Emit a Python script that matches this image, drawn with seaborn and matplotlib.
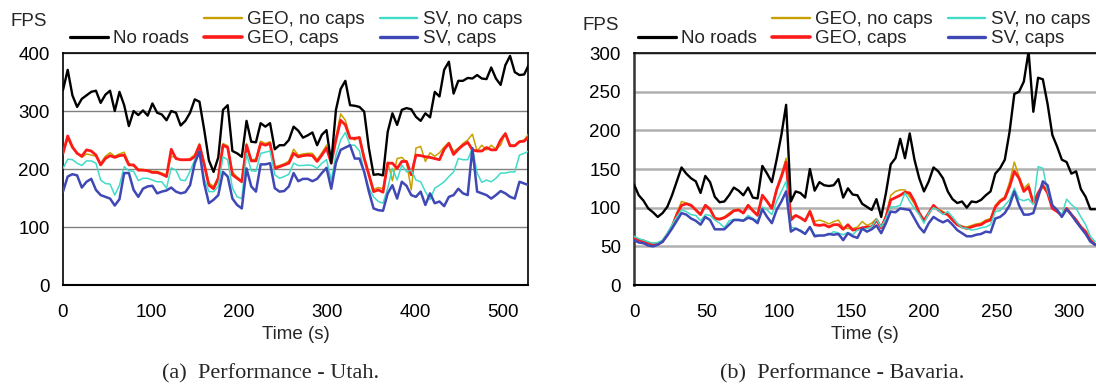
import numpy as np
import pandas as pd
import matplotlib
matplotlib.use("Agg")
import matplotlib.pyplot as plt
from matplotlib.lines import Line2D
import seaborn as sns

# ---------------- data ----------------
utah_time = np.linspace(0, 529, 100)
utah_no_roads = [336, 371, 327, 307, 321, 327, 333, 335, 314, 328, 335, 300, 333, 310, 274, 300, 293, 301, 292, 313,
                 297, 294, 284, 300, 297, 275, 283, 297, 320, 316, 268, 215, 195, 220,
                 302, 310, 231, 227, 221, 283, 247, 246, 279, 273, 279, 234, 241, 241, 250, 273, 266, 254, 258, 263,
                 241, 259, 267, 210, 302, 338, 352, 310, 309, 307, 299, 236, 190,
                 191, 189, 264, 296, 276, 302, 305, 303, 290, 283, 296, 289, 333, 325, 371, 385, 330, 352, 352, 357,
                 356, 362, 356, 355, 375, 356, 345, 379, 395, 367, 362, 363, 380]
utah_geo_nocaps = [228, 252, 236, 228, 220, 226, 224, 222, 210, 222, 228, 222, 226, 229, 210, 205, 200, 199, 198, 196,
                   196, 193, 190, 222, 220, 215, 215, 218, 225, 244, 212, 176, 170, 186,
                   244, 240, 195, 186, 180, 244, 216, 217, 248, 244, 247, 204, 206, 209, 214, 234, 224, 226, 227, 227,
                   216, 228, 241, 212, 255, 295, 284, 255, 250, 256, 222, 194, 165,
                   168, 166, 212, 180, 218, 220, 212, 164, 236, 239, 213, 228, 222, 228, 238, 246, 230, 236, 244, 250,
                   260, 231, 241, 233, 241, 234, 241, 262, 242, 241, 248, 250, 261]
utah_geo_caps = [227, 257, 238, 227, 222, 233, 231, 224, 207, 218, 223, 220, 223, 224, 207, 207, 198, 198, 197, 194,
                 194, 191, 187, 234, 218, 216, 216, 216, 221, 241, 208, 172, 166, 184,
                 241, 237, 190, 184, 178, 241, 214, 214, 244, 241, 244, 201, 204, 207, 210, 227, 221, 223, 224, 223,
                 213, 224, 236, 210, 250, 284, 276, 253, 253, 254, 218, 190, 161,
                 164, 160, 210, 210, 201, 213, 213, 190, 224, 223, 221, 220, 218, 216, 234, 244, 225, 234, 241, 246,
                 233, 231, 231, 237, 233, 233, 250, 261, 240, 240, 247, 248, 256]
utah_sv_nocaps = [201, 217, 216, 210, 206, 214, 214, 210, 181, 175, 174, 155, 172, 204, 197, 196, 180, 184, 184, 181,
                  178, 178, 167, 202, 198, 181, 180, 196, 216, 227, 184, 161, 161, 170,
                  221, 216, 167, 152, 149, 227, 197, 196, 227, 229, 231, 190, 184, 187, 191, 210, 206, 206, 207, 206,
                  201, 210, 216, 181, 224, 250, 263, 241, 241, 231, 195, 167, 152,
                  144, 141, 167, 201, 181, 207, 195, 198, 181, 178, 161, 147, 167, 172, 178, 187, 195, 218, 216, 216,
                  236, 193, 177, 181, 178, 184, 193, 193, 195, 195, 224, 227, 231]
utah_sv_caps = [161, 187, 191, 189, 168, 178, 183, 164, 155, 152, 149, 137, 148, 193, 193, 164, 152, 166, 170, 171,
                158, 161, 163, 168, 161, 158, 160, 172, 210, 230, 175, 141, 147, 155,
                195, 187, 149, 138, 132, 201, 170, 161, 208, 208, 210, 167, 161, 162, 170, 193, 179, 183, 183, 179,
                183, 193, 202, 166, 211, 233, 237, 241, 218, 218, 195, 161, 132,
                129, 128, 158, 172, 149, 178, 171, 155, 152, 161, 138, 158, 141, 144, 136, 152, 155, 166, 158, 155,
                236, 161, 158, 155, 149, 155, 162, 158, 152, 149, 178, 175, 172]

bav_time = np.linspace(0, 318, 98)
bav_no_roads = [130, 116, 109, 99, 94, 88, 93, 101, 116, 134, 152, 144, 138, 134, 119, 141, 133, 114, 107, 108,
                116, 126, 122, 116, 126, 113, 112, 154, 144, 133, 162, 194, 233,
                108, 121, 119, 113, 150, 122, 133, 129, 128, 129, 137, 113, 125, 117, 116, 105, 101, 97, 111, 88,
                119, 156, 164, 189, 164, 196, 162, 138, 121, 134, 152, 147, 138,
                121, 111, 106, 108, 100, 108, 107, 110, 116, 121, 144, 151, 162, 198, 247, 250, 263, 302, 224, 268,
                266, 234, 194, 179, 162, 159, 144, 147, 124, 114, 98, 98]
bav_geo_nocaps = [63, 59, 58, 55, 54, 54, 57, 66, 77, 93, 108, 106, 104, 98, 92, 104, 99, 87, 86, 88,
                  93, 97, 98, 94, 104, 97, 92, 117, 109, 100, 125, 143, 164,
                  88, 90, 87, 82, 97, 82, 84, 82, 79, 82, 84, 74, 73, 73, 75, 82, 77, 80, 86, 75,
                  90, 116, 121, 123, 123, 114, 105, 94, 84, 93, 101, 98, 95,
                  92, 85, 79, 76, 75, 77, 79, 80, 84, 86, 103, 110, 114, 133, 159, 140, 125, 131, 106, 116,
                  127, 120, 100, 96, 91, 100, 92, 85, 76, 70, 59, 53]
bav_geo_caps = [62, 58, 57, 54, 53, 53, 56, 65, 75, 91, 103, 105, 103, 97, 91, 103, 98, 86, 85, 87,
                91, 96, 97, 93, 103, 96, 90, 116, 108, 99, 123, 140, 159,
                84, 90, 87, 83, 95, 78, 77, 78, 75, 78, 78, 72, 78, 71, 72, 74, 75, 75, 84, 74,
                88, 110, 113, 116, 120, 119, 108, 93, 83, 93, 103, 97, 93,
                91, 84, 78, 75, 73, 75, 77, 78, 82, 84, 101, 108, 112, 127, 147, 138, 121, 127, 106, 119,
                129, 119, 99, 95, 90, 99, 91, 84, 75, 69, 58, 52]
bav_sv_nocaps = [63, 60, 58, 56, 54, 55, 58, 67, 78, 88, 97, 95, 91, 90, 83, 91, 90, 84, 80, 74,
                 83, 85, 85, 84, 90, 86, 83, 101, 97, 91, 108, 121, 134,
                 75, 73, 71, 67, 75, 65, 64, 64, 65, 69, 67, 65, 68, 65, 71, 72, 73, 75, 85, 75,
                 86, 101, 101, 103, 119, 108, 99, 91, 80, 93, 100, 97, 91,
                 95, 88, 80, 74, 73, 71, 72, 74, 75, 78, 95, 96, 103, 110, 125, 111, 109, 111, 104, 153,
                 151, 121, 103, 97, 91, 111, 104, 99, 88, 78, 63, 56]
bav_sv_caps = [58, 55, 54, 51, 50, 52, 56, 64, 73, 83, 93, 91, 86, 83, 78, 88, 84, 72, 72, 72,
               78, 84, 84, 83, 87, 85, 80, 98, 88, 80, 97, 108, 121,
               69, 73, 70, 66, 75, 63, 64, 64, 66, 65, 66, 58, 67, 63, 61, 73, 69, 72, 77, 67,
               80, 95, 94, 99, 98, 97, 86, 75, 68, 80, 88, 84, 81,
               84, 78, 71, 67, 63, 63, 65, 66, 69, 68, 86, 88, 93, 103, 121, 103, 91, 91, 93, 113,
               134, 129, 103, 97, 88, 98, 91, 82, 74, 66, 56, 52]

series_names = ["No roads", "GEO, no caps", "GEO, caps", "SV, no caps", "SV, caps"]
x_label = "Time (s)"
y_label = "FPS"
captions = ["(a)  Performance - Utah.", "(b)  Performance - Bavaria."]
utah_yticks = [0, 100, 200, 300, 400]
utah_xticks = [0, 100, 200, 300, 400, 500]
bav_yticks = [0, 50, 100, 150, 200, 250, 300]
bav_xticks = [0, 50, 100, 150, 200, 250, 300]

# ---------------- style ----------------
sns.set_style("white")
plt.rcParams["font.family"] = ["Liberation Sans", "DejaVu Sans"]
FS = 13.5
plt.rcParams["font.size"] = FS

colors = {"No roads": "#000000", "GEO, no caps": "#C8A000", "GEO, caps": "#FF1A1A",
          "SV, no caps": "#40DCC8", "SV, caps": "#3F48B4"}
widths = {"No roads": 1.7, "GEO, no caps": 1.1, "GEO, caps": 2.0, "SV, no caps": 1.1, "SV, caps": 1.8}
draw_order = ["GEO, no caps", "GEO, caps", "SV, no caps", "SV, caps", "No roads"]

fig = plt.figure(figsize=(10.96, 3.85), dpi=100)
W, H = 1096, 385
ax1 = fig.add_axes([63 / W, 100 / H, 465 / W, 232 / H])
ax2 = fig.add_axes([634 / W, 100 / H, 462 / W, 232 / H])


def make_df(t, vals):
    frames = []
    for name, v in zip(series_names, vals):
        frames.append(pd.DataFrame({"t": t, "fps": v, "series": name}))
    return pd.concat(frames, ignore_index=True)


utah_df = make_df(utah_time, [utah_no_roads, utah_geo_nocaps, utah_geo_caps, utah_sv_nocaps, utah_sv_caps])
bav_df = make_df(bav_time, [bav_no_roads, bav_geo_nocaps, bav_geo_caps, bav_sv_nocaps, bav_sv_caps])

for ax, df, yt, xt, xmax, gridc, gridw in [
    (ax1, utah_df, utah_yticks, utah_xticks, 528, "#808080", 1.0),
    (ax2, bav_df, bav_yticks, bav_xticks, 318.6, "#b0b0b0", 1.8),
]:
    for name in draw_order:
        sub = df[df["series"] == name]
        sns.lineplot(data=sub, x="t", y="fps", ax=ax, color=colors[name],
                     linewidth=widths[name], label=name, legend=False, zorder=3)
    ax.set_xlim(0, xmax)
    ax.set_ylim(yt[0], yt[-1])
    ax.set_yticks(yt)
    ax.set_xticks(xt)
    ax.yaxis.grid(True, color=gridc, linewidth=gridw, zorder=1)
    ax.xaxis.grid(False)
    ax.set_axisbelow(True)
    ax.set_xlabel(x_label, labelpad=3)
    ax.set_ylabel("")
    ax.tick_params(axis="x", direction="inout", length=16, width=1.0, pad=6, colors="black",
                   labelsize=FS)
    ax.tick_params(axis="y", direction="out", length=8, width=1.0, pad=1.5, colors="black",
                   labelsize=FS)
    ax.tick_params(axis="y", which="major", color="#808080")
    for s in ["left", "bottom", "top", "right"]:
        ax.spines[s].set_color("black")
        ax.spines[s].set_linewidth(1.2)
    ax.spines["bottom"].set_linewidth(1.5)

    handles = [Line2D([], [], color="none")] + [
        Line2D([], [], color=colors[n], linewidth=widths[n] + 0.6) for n in series_names]
    labels = [""] + series_names
    ax.legend(handles, labels, ncol=3, loc="lower right", bbox_to_anchor=(1.0, 1.0),
              frameon=False, handlelength=2.0, handletextpad=0.3, columnspacing=0.8,
              labelspacing=0.1, borderaxespad=0.3, borderpad=0.0, fontsize=FS)

ax2.spines["right"].set_visible(False)
ax2.spines["left"].set_color("#333333")
ax2.spines["left"].set_linewidth(1.8)

fig.text(10 / W, 1 - 22 / H, y_label, ha="left", va="center", fontsize=FS)
fig.text(583 / W, 1 - 25 / H, y_label, ha="left", va="center", fontsize=FS)

fig.text(271 / W, 1 - 374 / H, captions[0], ha="center", va="center",
         fontsize=16, family=["Liberation Serif", "DejaVu Serif"])
fig.text(842 / W, 1 - 374 / H, captions[1], ha="center", va="center",
         fontsize=16, family=["Liberation Serif", "DejaVu Serif"])

fig.savefig("out.png", dpi=100)
